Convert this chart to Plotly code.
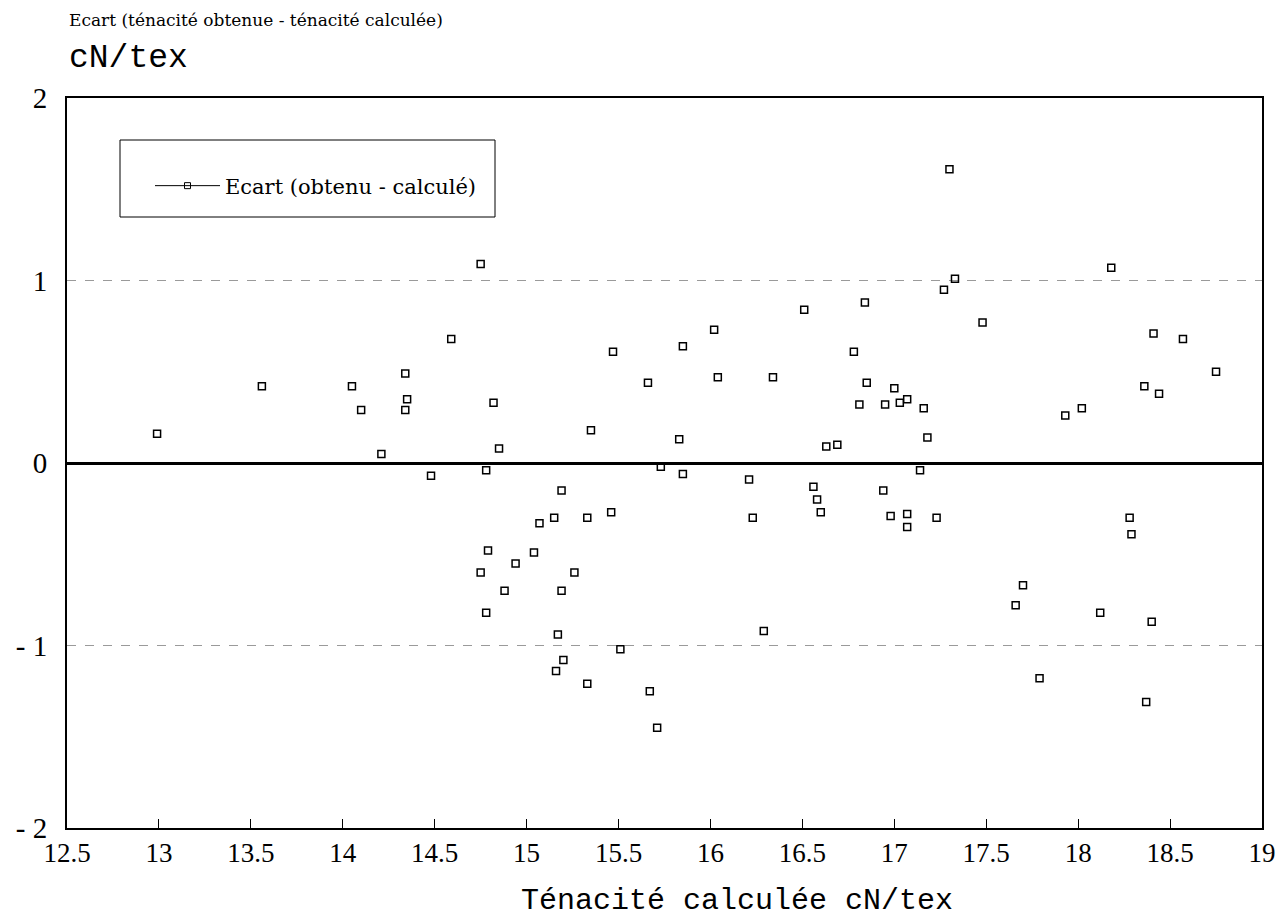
import plotly.graph_objects as go

# Ténacité calculée (cN/tex)
tenacite_calculee = [
    12.99, 13.56, 14.05, 14.10, 14.21, 14.34, 14.35, 14.34, 14.48, 14.59,
    14.75, 14.78, 14.82, 14.85, 14.79, 14.75, 14.78, 14.88, 14.94, 15.04,
    15.07, 15.15, 15.19, 15.19, 15.26, 15.17, 15.20, 15.16, 15.33, 15.33,
    15.35, 15.46, 15.47, 15.51, 15.66, 15.67, 15.71, 15.73, 15.83, 15.85,
    15.85, 16.02, 16.04, 16.21, 16.23, 16.29, 16.34, 16.51, 16.56, 16.58,
    16.60, 16.63, 16.69, 16.78, 16.81, 16.84, 16.85, 16.94, 16.95, 16.98,
    17.00, 17.03, 17.07, 17.07, 17.07, 17.14, 17.16, 17.18, 17.23, 17.27,
    17.30, 17.33, 17.48, 17.66, 17.70, 17.79, 17.93, 18.02, 18.12, 18.18,
    18.28, 18.29, 18.36, 18.37, 18.40, 18.41, 18.44, 18.57, 18.75,
]
# Ecart (obtenu - calculé) (cN/tex)
ecart = [
    0.16, 0.42, 0.42, 0.29, 0.05, 0.49, 0.35, 0.29, -0.07, 0.68,
    1.09, -0.04, 0.33, 0.08, -0.48, -0.60, -0.82, -0.70, -0.55, -0.49,
    -0.33, -0.30, -0.15, -0.70, -0.60, -0.94, -1.08, -1.14, -0.30, -1.21,
    0.18, -0.27, 0.61, -1.02, 0.44, -1.25, -1.45, -0.02, 0.13, 0.64,
    -0.06, 0.73, 0.47, -0.09, -0.30, -0.92, 0.47, 0.84, -0.13, -0.20,
    -0.27, 0.09, 0.10, 0.61, 0.32, 0.88, 0.44, -0.15, 0.32, -0.29,
    0.41, 0.33, 0.35, -0.28, -0.35, -0.04, 0.30, 0.14, -0.30, 0.95,
    1.61, 1.01, 0.77, -0.78, -0.67, -1.18, 0.26, 0.30, -0.82, 1.07,
    -0.30, -0.39, 0.42, -1.31, -0.87, 0.71, 0.38, 0.68, 0.50,
]

x_ticks = [12.5, 13, 13.5, 14, 14.5, 15, 15.5, 16, 16.5, 17, 17.5, 18, 18.5, 19]
x_ticklabels = ["12.5", "13", "13.5", "14", "14.5", "15", "15.5", "16", "16.5", "17", "17.5", "18", "18.5", "19"]
y_ticks = [-2, -1, 0, 1, 2]
y_ticklabels = ["- 2", "- 1", "0", "1", "2"]

serif = "DejaVu Serif"
num_font = "Liberation Serif"
mono = "Liberation Mono"

fig = go.Figure()
fig.add_trace(go.Scatter(
    x=tenacite_calculee, y=ecart, mode="markers",
    marker=dict(symbol="square-open", size=7, color="black", line=dict(width=1.5, color="black")),
    showlegend=False,
))
fig.add_trace(go.Scatter(
    x=[None], y=[None], mode="lines+markers", name="Ecart (obtenu - calculé)",
    line=dict(color="black", width=1),
    marker=dict(symbol="square-open", size=6, color="black"),
))

# page body has an 8px offset: work in screen pixels and subtract it
OFF = 8
PLOT_RIGHT = 1262
W, H = 1285 - 2 * OFF, 920 - OFF
L, R, T, B = 67 - OFF, W - (PLOT_RIGHT - OFF), 98 - OFF, H - (828 - OFF)
pw, ph = W - L - R, H - T - B

def px_x(p):
    return (p - OFF - L) / pw

def px_y(p):
    return (H - B - (p - OFF)) / ph

fig.update_layout(
    width=W, height=H,
    margin=dict(l=L, r=R, t=T, b=B, autoexpand=False),
    paper_bgcolor="white", plot_bgcolor="white",
    showlegend=True,
    legend=dict(
        x=px_x(150), y=px_y(186), xanchor="left", yanchor="middle",
        bgcolor="rgba(0,0,0,0)", borderwidth=0, itemwidth=65,
        font=dict(family=serif, size=21, color="black"),
    ),
    xaxis=dict(
        range=[12.5, 19], tickvals=x_ticks, ticktext=x_ticklabels,
        showline=True, linecolor="black", linewidth=2, mirror=True,
        ticks="inside", ticklen=9, tickcolor="black", tickwidth=1,
        showgrid=False, zeroline=False, automargin=False,
        ticklabeloverflow="allow",
        tickfont=dict(family=num_font, size=27, color="black"),
    ),
    yaxis=dict(
        range=[-2, 2], tickvals=y_ticks, ticktext=y_ticklabels,
        showline=True, linecolor="black", linewidth=2, mirror=True,
        ticks="", showgrid=True, gridcolor="#9a9a9a", gridwidth=1, griddash="dash",
        zeroline=True, zerolinecolor="black", zerolinewidth=2.5, automargin=False,
        tickfont=dict(family=num_font, size=29, color="black"),
        ticklabelstandoff=12,
    ),
    annotations=[
        dict(text="Ecart (ténacité obtenue - ténacité calculée)", xref="paper", yref="paper",
             x=0, y=px_y(20), xanchor="left", yanchor="middle", showarrow=False,
             font=dict(family=serif, size=17, color="black")),
        dict(text="cN/tex", xref="paper", yref="paper",
             x=0, y=px_y(58), xanchor="left", yanchor="middle", showarrow=False,
             font=dict(family=mono, size=33, color="black")),
        dict(text="Ténacité calculée cN/tex", xref="paper", yref="paper",
             x=px_x(737), y=px_y(901), xanchor="center", yanchor="middle", showarrow=False,
             font=dict(family=mono, size=30, color="black")),
    ],
    shapes=[
        dict(type="rect", xref="paper", yref="paper",
             x0=px_x(120), x1=px_x(495), y0=px_y(217), y1=px_y(140),
             line=dict(color="black", width=1)),
    ],
)

fig.write_html("out.html")
